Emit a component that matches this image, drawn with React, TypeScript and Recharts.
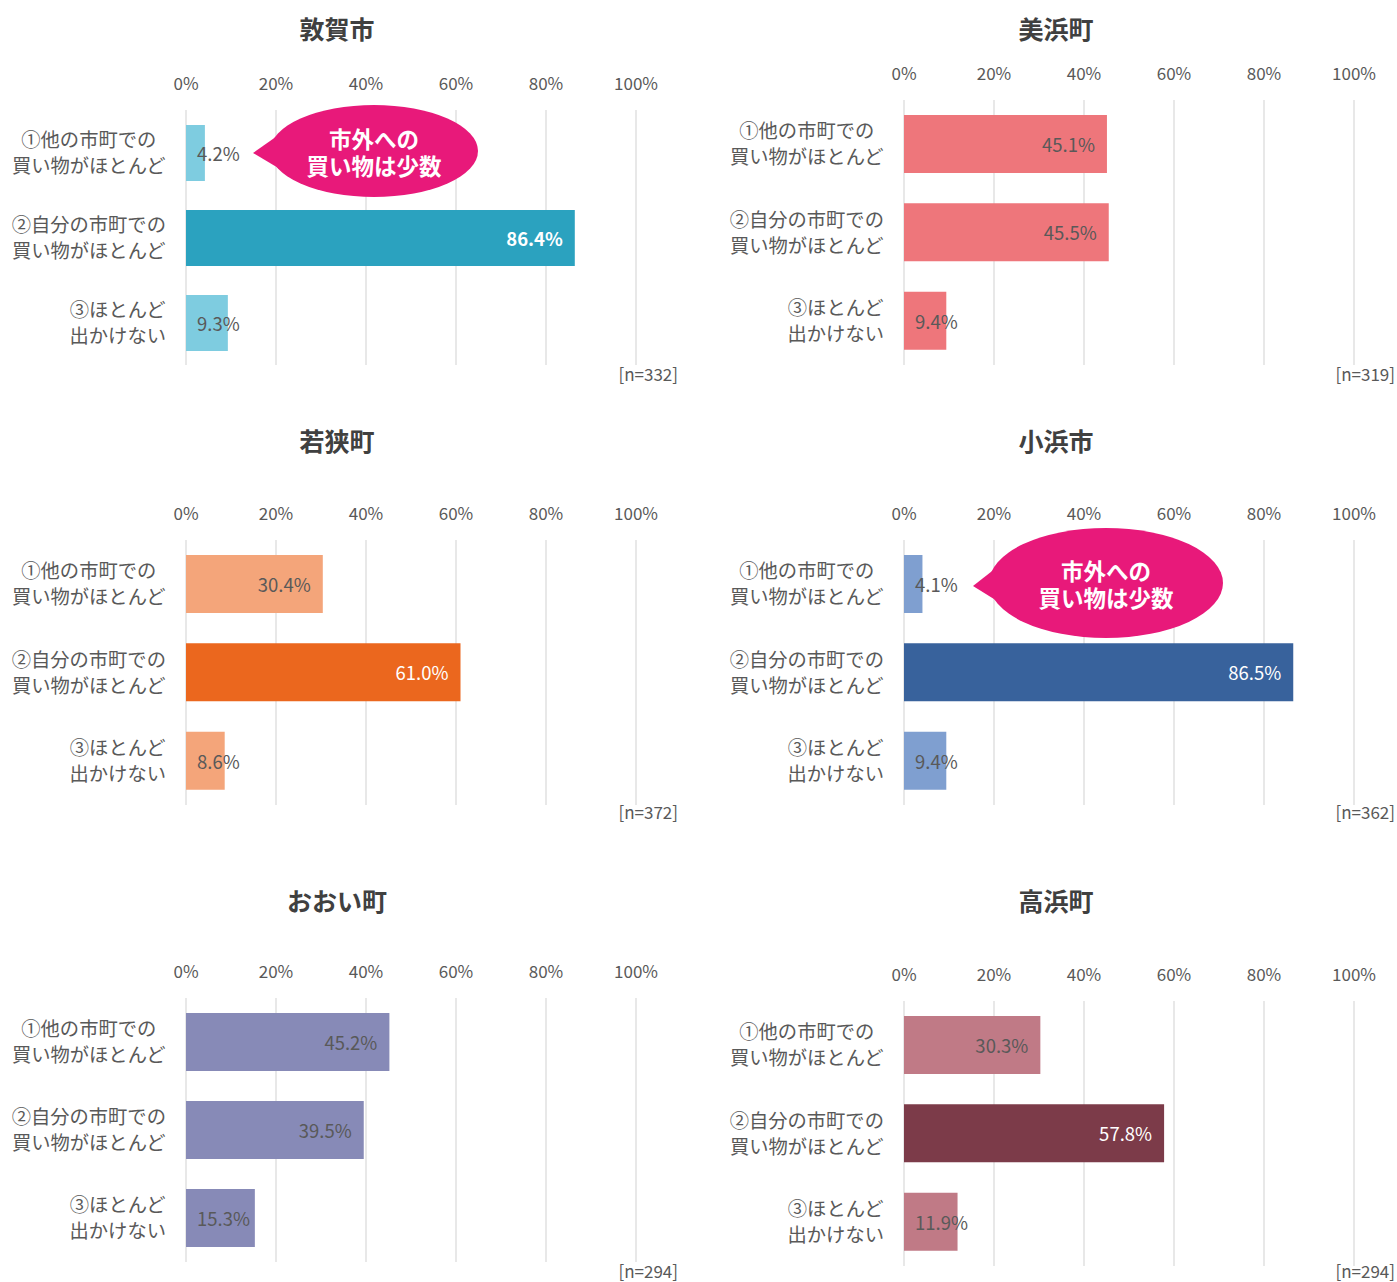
import React from "react";
import { Bar, BarChart, CartesianGrid, Cell, LabelList, XAxis, YAxis } from "recharts";

const categories = [
  ["①他の市町での", "買い物がほとんど"],
  ["②自分の市町での", "買い物がほとんど"],
  ["③ほとんど", "出かけない"],
];
const towns = ["敦賀市", "美浜町", "若狭町", "小浜市", "おおい町", "高浜町"];
const tsurugaValues = [4.2, 86.4, 9.3];
const mihamaValues = [45.1, 45.5, 9.4];
const wakasaValues = [30.4, 61.0, 8.6];
const obamaValues = [4.1, 86.5, 9.4];
const ohiValues = [45.2, 39.5, 15.3];
const takahamaValues = [30.3, 57.8, 11.9];
const sampleSizes = [332, 319, 372, 362, 294, 294];
const xTicks = [0, 20, 40, 60, 80, 100];
const calloutLines = ["市外への", "買い物は少数"];

const FONT = '"Noto Sans CJK JP", "Noto Sans", sans-serif';
const GRAY = "#595959";

// light colour for ①③, dark colour for ②
const palettes = [
  ["#7ECCE0", "#2BA2BF"],
  ["#EE767B", "#EE767B"],
  ["#F4A57A", "#EB671E"],
  ["#7F9FD0", "#38629C"],
  ["#878AB7", "#878AB7"],
  ["#C07A86", "#7C3B49"],
];
const darkLabel = [true, false, true, true, false, true];

const layout = [
  { left: 0, titleX: 337, titleY: 28, plotTop: 110, plotBottom: 365, barSize: 56, nY: 374, nRight: 678 },
  { left: 718, titleX: 1056, titleY: 28, plotTop: 100, plotBottom: 365, barSize: 58, nY: 374, nRight: 1395 },
  { left: 0, titleX: 337, titleY: 440, plotTop: 540, plotBottom: 805, barSize: 58, nY: 812, nRight: 678 },
  { left: 718, titleX: 1056, titleY: 440, plotTop: 540, plotBottom: 805, barSize: 58, nY: 812, nRight: 1395 },
  { left: 0, titleX: 337, titleY: 900, plotTop: 998, plotBottom: 1262, barSize: 58, nY: 1271, nRight: 678 },
  { left: 718, titleX: 1056, titleY: 900, plotTop: 1001, plotBottom: 1266, barSize: 58, nY: 1271, nRight: 1395 },
];

const callouts = [
  { cx: 374, cy: 151, rx: 104, ry: 46, tip: [253, 153], base: 290, spread: 24, ty: 138 },
  { cx: 1106, cy: 583, rx: 117, ry: 55, tip: [973, 586], base: 1010, spread: 26, ty: 570 },
];

const allValues = [tsurugaValues, mihamaValues, wakasaValues, obamaValues, ohiValues, takahamaValues];

const AXIS_H = 50;
const CHART_W = 660;
const LABEL_FS = 18.5;

function textWidth(s: string, fs: number) {
  let w = 0;
  for (const ch of s) {
    if (ch === ".") w += 0.27;
    else if (ch === "%") w += 0.86;
    else w += 0.55;
  }
  return w * fs;
}

function CategoryTick(props: any) {
  const { x, y, payload } = props;
  const lines = categories[payload.index] || String(payload.value).split("\n");
  const maxW = Math.max(...lines.map((l: string) => l.length * 19.3));
  const cx = x - 20 - maxW / 2;
  return (
    <g>
      {lines.map((l: string, i: number) => (
        <text key={i} x={cx} y={y + (i === 0 ? -14 : 12)} textAnchor="middle" dominantBaseline="central" fill={GRAY} fontSize={19.3} fontFamily={FONT}>
          {l}
        </text>
      ))}
    </g>
  );
}

function PercentTick(props: any) {
  const { x, payload } = props;
  return (
    <text x={x} y={AXIS_H - 28} textAnchor="middle" dominantBaseline="central" fill={GRAY} fontSize={17} fontFamily={FONT}>
      {`${payload.value}%`}
    </text>
  );
}

function Panel({ idx }: { idx: number }) {
  const cfg = layout[idx];
  const values = allValues[idx];
  const [light, dark] = palettes[idx];
  const rows = categories.map((c, i) => ({ name: c.join("\n"), value: values[i] }));
  const plotH = cfg.plotBottom - cfg.plotTop;
  const height = AXIS_H + plotH + 4;

  const renderLabel = (p: any) => {
    const { x, y, width, height: h, value, index } = p;
    const txt = `${Number(value).toFixed(1)}%`;
    const tw = textWidth(txt, LABEL_FS);
    const isDark = index === 1 && darkLabel[idx];
    const fitsRight = width - 12 - tw >= 11;
    return (
      <text
        x={fitsRight ? x + width - 12 : x + 11}
        y={y + h / 2}
        textAnchor={fitsRight ? "end" : "start"}
        dominantBaseline="central"
        fill={isDark ? "#ffffff" : GRAY}
        fontWeight={isDark && idx === 0 ? 700 : 400}
        fontSize={LABEL_FS}
        fontFamily={FONT}
      >
        {txt}
      </text>
    );
  };

  return (
    <>
      <div style={{ position: "absolute", left: cfg.titleX - 150, top: cfg.titleY - 17, width: 300, textAlign: "center", fontFamily: FONT, fontWeight: 700, fontSize: 25, lineHeight: "34px", color: "#404040" }}>
        {towns[idx]}
      </div>
      <div style={{ position: "absolute", left: cfg.left, top: cfg.plotTop - AXIS_H }}>
        <BarChart width={CHART_W} height={height} data={rows} layout="vertical" margin={{ top: 0, right: 24, bottom: 4, left: 0 }}>
          <CartesianGrid horizontal={false} stroke="#d9d9d9" strokeWidth={1.2} />
          <XAxis type="number" orientation="top" domain={[0, 100]} ticks={xTicks} height={AXIS_H} axisLine={false} tickLine={false} tick={<PercentTick />} interval={0} />
          <YAxis type="category" dataKey="name" width={186} axisLine={false} tickLine={false} tickSize={0} tickMargin={0} tick={<CategoryTick />} interval={0} />
          <Bar dataKey="value" barSize={cfg.barSize} isAnimationActive={false}>
            {rows.map((_, i) => (
              <Cell key={i} fill={i === 1 ? dark : light} />
            ))}
            <LabelList dataKey="value" content={renderLabel} />
          </Bar>
        </BarChart>
      </div>
      <div style={{ position: "absolute", left: cfg.nRight - 200, top: cfg.nY - 10, width: 200, textAlign: "right", fontFamily: FONT, fontSize: 17, lineHeight: "20px", color: GRAY }}>
        {`[n=${sampleSizes[idx]}]`}
      </div>
    </>
  );
}

function Callouts() {
  return (
    <>
      <svg width={1397} height={1282} style={{ position: "absolute", left: 0, top: 0, pointerEvents: "none" }}>
        {callouts.map((c, i) => (
          <g key={i}>
            <ellipse cx={c.cx} cy={c.cy} rx={c.rx} ry={c.ry} fill="#E8197A" />
            <polygon points={`${c.tip[0]},${c.tip[1]} ${c.base},${c.cy - c.spread} ${c.base},${c.cy + c.spread}`} fill="#E8197A" />
          </g>
        ))}
      </svg>
      {callouts.map((c, i) => (
        <div
          key={i}
          style={{ position: "absolute", left: c.cx - 100, top: c.ty - 13.5, width: 200, textAlign: "center", whiteSpace: "pre-line", fontFamily: FONT, fontWeight: 700, fontSize: 22.5, lineHeight: "27px", color: "#ffffff" }}
        >
          {calloutLines.join("\n")}
        </div>
      ))}
    </>
  );
}

export default function App() {
  return (
    <div style={{ position: "absolute", left: 0, top: 0, width: 1397, height: 1282, background: "#ffffff", overflow: "hidden" }}>
      {towns.map((_, i) => (
        <Panel key={i} idx={i} />
      ))}
      <Callouts />
    </div>
  );
}
